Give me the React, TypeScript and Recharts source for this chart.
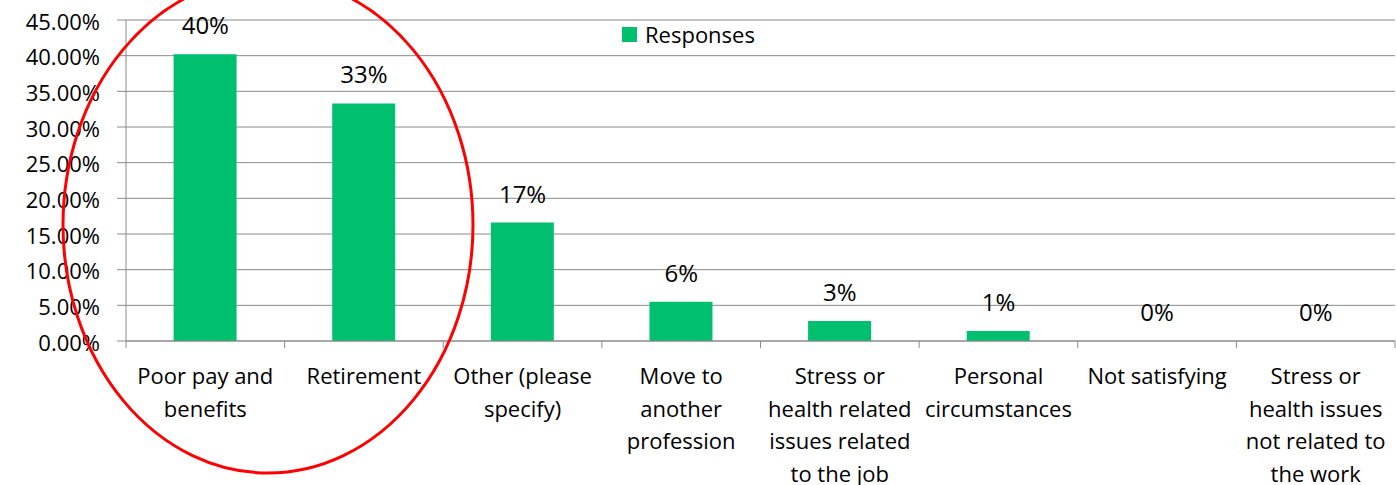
import { ComposedChart, Bar, Line, XAxis, YAxis, CartesianGrid, Legend, LabelList } from "recharts";

const categories = [
  "Poor pay and\nbenefits",
  "Retirement",
  "Other (please\nspecify)",
  "Move to\nanother\nprofession",
  "Stress or\nhealth related\nissues related\nto the job",
  "Personal\ncircumstances",
  "Not satisfying",
  "Stress or\nhealth issues\nnot related to\nthe work",
];
const responses = [40.2, 33.3, 16.6, 5.5, 2.8, 1.4, 0, 0];
const valueLabels = ["40%", "33%", "17%", "6%", "3%", "1%", "0%", "0%"];
const yTicks = [0, 5, 10, 15, 20, 25, 30, 35, 40, 45];

const data = categories.map((name, i) => ({
  name,
  value: responses[i],
  label: valueLabels[i],
}));

const W = 1396;
const H = 485;
const Y_AXIS_W = 126;
const RIGHT = 1;
const TOP = 20;
const X_AXIS_H = 144;
const SLOT = (W - Y_AXIS_W - RIGHT) / categories.length;
const FONT = "'Open Sans', sans-serif";
const GRID = "#8a8a8a";
const GREEN = "#00c06f";

function CategoryTick(props: any) {
  const { x, y, payload, index } = props;
  const lines = String(payload.value).split("\n");
  const left = x - SLOT / 2;
  return (
    <g>
      <line x1={left} x2={left} y1={y} y2={y + 7} stroke={GRID} />
      {index === categories.length - 1 && (
        <line x1={left + SLOT} x2={left + SLOT} y1={y} y2={y + 7} stroke={GRID} />
      )}
      <text x={x} y={y} textAnchor="middle" fontSize={22} fontFamily={FONT} fill="#000">
        {lines.map((ln, i) => (
          <tspan key={i} x={x} y={y + 43 + i * 32.5}>
            {ln}
          </tspan>
        ))}
      </text>
    </g>
  );
}

function LegendBox() {
  return (
    <div style={{ display: "flex", alignItems: "center", fontFamily: FONT, fontSize: 22, color: "#000" }}>
      <span style={{ width: 15, height: 15, background: GREEN, display: "inline-block", marginRight: 8 }} />
      <span>Responses</span>
    </div>
  );
}

export default function App() {
  return (
    <div style={{ position: "absolute", left: 0, top: 0, width: W, height: H, background: "#fff" }}>
      <ComposedChart
        width={W}
        height={H}
        data={data}
        margin={{ top: TOP, right: RIGHT, left: 0, bottom: 0 }}
        barCategoryGap="30%"
      >
        <CartesianGrid vertical={false} stroke={GRID} />
        <XAxis
          dataKey="name"
          interval={0}
          height={X_AXIS_H}
          tickSize={0}
          tickMargin={0}
          axisLine={{ stroke: GRID }}
          tickLine={false}
          tick={<CategoryTick />}
        />
        <YAxis
          width={Y_AXIS_W}
          domain={[0, 45]}
          ticks={yTicks}
          interval={0}
          tickFormatter={(v: number) => `${v.toFixed(2)}%`}
          tickSize={9}
          tickMargin={17}
          axisLine={{ stroke: GRID }}
          tickLine={{ stroke: GRID }}
          tick={{ fontSize: 22, fontFamily: FONT, fill: "#000", dy: 2 }}
        />
        <Legend
          verticalAlign="middle"
          align="center"
          content={<LegendBox />}
          wrapperStyle={{ position: "absolute", left: 622, top: 19, width: "auto", height: "auto" }}
        />
        <Bar dataKey="value" name="Responses" fill={GREEN} isAnimationActive={false} />
        <Line
          dataKey="value"
          stroke="none"
          dot={false}
          activeDot={false}
          legendType="none"
          isAnimationActive={false}
        >
          <LabelList
            dataKey="label"
            position="top"
            offset={20}
            fontSize={24}
            fontFamily={FONT}
            fill="#000"
          />
        </Line>
      </ComposedChart>
      <svg
        width={W}
        height={H}
        style={{ position: "absolute", left: 0, top: 0, pointerEvents: "none" }}
      >
        <ellipse cx={268} cy={225} rx={205} ry={248} fill="none" stroke="#ff0000" strokeWidth={3} />
      </svg>
    </div>
  );
}
